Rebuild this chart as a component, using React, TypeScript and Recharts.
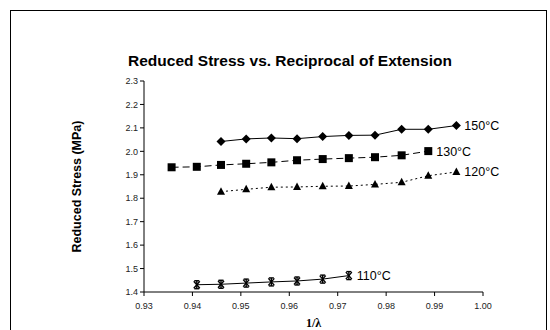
import React from 'react'
import { LineChart, Line, XAxis, YAxis, Label } from 'recharts'

// 1/λ values shared by the series
const recipExt = [0.9357, 0.9409, 0.9459, 0.9511, 0.9563, 0.9616, 0.9669, 0.9723, 0.9777, 0.9832, 0.9887, 0.9945]

// reduced stress (MPa), each starts at the given index of recipExt
const stress150 = [2.042, 2.053, 2.057, 2.054, 2.063, 2.068, 2.069, 2.094, 2.094, 2.11]
const stress130 = [1.932, 1.934, 1.942, 1.947, 1.953, 1.962, 1.967, 1.971, 1.975, 1.983, 2.001]
const stress120 = [1.828, 1.838, 1.847, 1.848, 1.851, 1.852, 1.859, 1.868, 1.896, 1.912]
const stress110 = [1.431, 1.433, 1.438, 1.443, 1.447, 1.455, 1.47]

const xTicks = [0.93, 0.94, 0.95, 0.96, 0.97, 0.98, 0.99, 1.0]
const yTicks = [1.4, 1.5, 1.6, 1.7, 1.8, 1.9, 2.0, 2.1, 2.2, 2.3]

const toPoints = (vals: number[], start: number) =>
  vals.map((v, i) => ({ x: recipExt[start + i], y: v }))

const series = [
  { name: '150°C', data: toPoints(stress150, 2), dash: undefined, shape: 'diamond' },
  { name: '130°C', data: toPoints(stress130, 0), dash: '7 4', shape: 'square' },
  { name: '120°C', data: toPoints(stress120, 2), dash: '2 3', shape: 'triangle' },
  { name: '110°C', data: toPoints(stress110, 1), dash: undefined, shape: 'star' },
]

const font = '"Liberation Sans", Arial, sans-serif'

const Marker = (shape: string) => (p: any) => {
  const { cx, cy } = p
  if (cx == null || cy == null) return null
  if (shape === 'diamond')
    return <polygon key={p.index} points={`${cx},${cy - 4.5} ${cx + 4.5},${cy} ${cx},${cy + 4.5} ${cx - 4.5},${cy}`} fill="#000" />
  if (shape === 'square')
    return <rect key={p.index} x={cx - 4} y={cy - 4} width={8} height={8} fill="#000" />
  if (shape === 'triangle')
    return <polygon key={p.index} points={`${cx},${cy - 4.5} ${cx + 4},${cy + 3} ${cx - 4},${cy + 3}`} fill="#000" />
  // asterisk-like star
  return (
    <g key={p.index} stroke="#000" strokeWidth={1.4}>
      <line x1={cx - 3} y1={cy - 3.5} x2={cx + 3} y2={cy + 3.5} />
      <line x1={cx - 3} y1={cy + 3.5} x2={cx + 3} y2={cy - 3.5} />
      <line x1={cx} y1={cy - 4} x2={cx} y2={cy + 4} />
      <line x1={cx - 2.5} y1={cy - 4} x2={cx + 2.5} y2={cy - 4} />
      <line x1={cx - 2.5} y1={cy + 4} x2={cx + 2.5} y2={cy + 4} />
    </g>
  )
}

const EndLabel = (name: string, last: number) => (p: any) => {
  if (p.index !== last) return null
  return (
    <text x={p.x + 8} y={p.y} dy={4.5} fontSize={12.5} fontFamily={font} fill="#000">
      {name}
    </text>
  )
}

export default function App() {
  return (
    <div style={{ position: 'relative', width: 550, height: 330, background: '#fff' }}>
      <style>{'body{margin:0}'}</style>
      <div
        style={{
          position: 'absolute',
          left: 10,
          top: 10,
          width: 537,
          height: 330,
          border: '1px solid #000',
          boxSizing: 'border-box',
        }}
      />
      <div
        style={{
          position: 'absolute',
          left: 0,
          top: 52,
          width: 580,
          textAlign: 'center',
          fontFamily: font,
          fontWeight: 'bold',
          fontSize: 15.5,
        }}
      >
        Reduced Stress vs. Reciprocal of Extension
      </div>
      <div style={{ position: 'absolute', left: 0, top: 0 }}>
        <LineChart width={550} height={330} margin={{ top: 81, right: 67, bottom: 18, left: 104 }}>
          <XAxis
            type="number"
            dataKey="x"
            domain={[0.93, 1.0]}
            ticks={xTicks}
            tickFormatter={(v: number) => v.toFixed(2)}
            allowDataOverflow
            height={20}
            stroke="#000"
            tickSize={4}
            tickMargin={7}
            tick={{ fill: '#222', fontSize: 9, fontFamily: font }}
          >
            <Label
              value="1/λ"
              position="bottom"
              offset={6}
              style={{ fontFamily: 'serif', fontWeight: 'bold', fontSize: 12, fill: '#000' }}
            />
          </XAxis>
          <YAxis
            type="number"
            domain={[1.4, 2.3]}
            ticks={yTicks}
            tickFormatter={(v: number) => v.toFixed(1)}
            allowDataOverflow
            width={40}
            stroke="#000"
            tickSize={4}
            tick={{ fill: '#222', fontSize: 9, fontFamily: font }}
          >
            <Label
              value="Reduced Stress (MPa)"
              angle={-90}
              position="insideLeft"
              offset={-27}
              style={{ textAnchor: 'middle', fontFamily: font, fontWeight: 'bold', fontSize: 12.5, fill: '#000' }}
            />
          </YAxis>
          {series.map((s) => (
            <Line
              key={s.name}
              data={s.data}
              dataKey="y"
              type="linear"
              stroke="#000"
              strokeWidth={1}
              strokeDasharray={s.dash}
              dot={Marker(s.shape)}
              activeDot={false}
              label={EndLabel(s.name, s.data.length - 1)}
              isAnimationActive={false}
            />
          ))}
        </LineChart>
      </div>
    </div>
  )
}
